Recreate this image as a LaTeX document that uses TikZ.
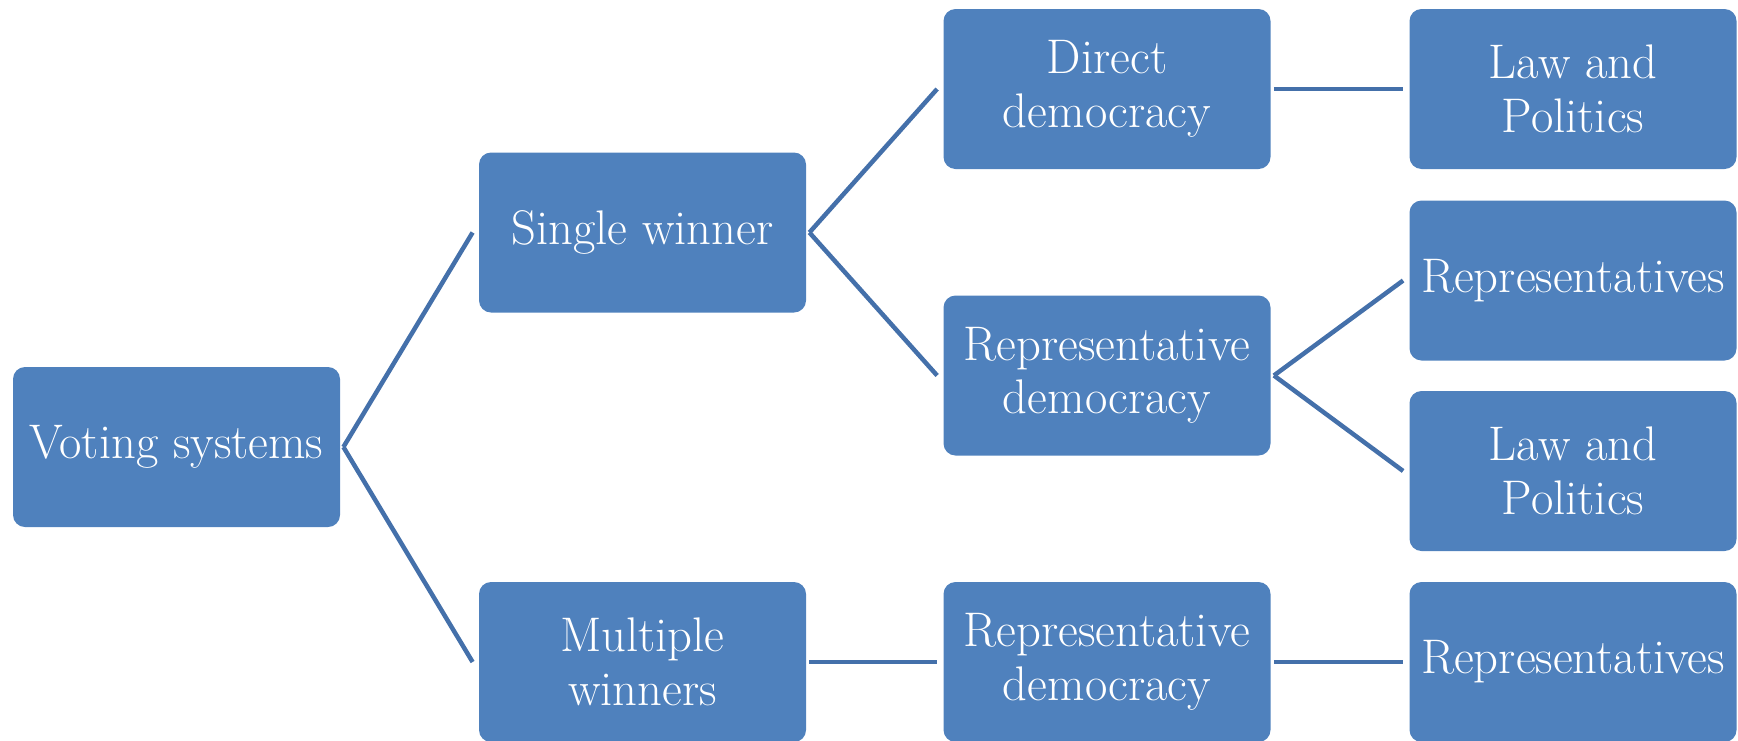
\documentclass[tikz,border=0pt]{standalone}
\usetikzlibrary{calc}
\definecolor{boxblue}{HTML}{4F81BD}
\definecolor{linkblue}{HTML}{4470AA}
\begin{document}
\begin{tikzpicture}[x=0.5pt,y=-0.5pt,
  box/.style={draw=none,fill=boxblue,rounded corners=6pt,minimum width=163.5pt,
    minimum height=80pt,inner sep=0pt,text=white,align=center,
    font=\fontsize{24.3}{26.8}\selectfont},
  link/.style={draw=linkblue,line width=2.25pt,line cap=butt}]
\useasboundingbox (0,0) rectangle (1738,740);
\node[box] (vote) at (176.5,447) {Voting systems};
\node[box] (single) at (642.5,232.5) {Single winner};
\node[box] (multi) at (642.5,662) {Multiple\\winners};
\node[box] (direct) at (1107,89) {Direct\\democracy};
\node[box] (repmid) at (1107,375.5) {Representative\\democracy};
\node[box] (repbot) at (1107,662) {Representative\\democracy};
\node[box] (law1) at (1573,89) {Law and\\Politics};
\node[box] (reps1) at (1573,280.5) {Representatives};
\node[box] (law2) at (1573,471) {Law and\\Politics};
\node[box] (reps2) at (1573,662) {Representatives};
\draw[link] ($(vote.east)+(3,0)$) -- ($(single.west)+(-6,0)$);
\draw[link] ($(vote.east)+(3,0)$) -- ($(multi.west)+(-6,0)$);
\draw[link] ($(single.east)+(3,0)$) -- ($(direct.west)+(-6,0)$);
\draw[link] ($(single.east)+(3,0)$) -- ($(repmid.west)+(-6,0)$);
\draw[link] ($(direct.east)+(3,0)$) -- ($(law1.west)+(-6,0)$);
\draw[link] ($(repmid.east)+(3,0)$) -- ($(reps1.west)+(-6,0)$);
\draw[link] ($(repmid.east)+(3,0)$) -- ($(law2.west)+(-6,0)$);
\draw[link] ($(multi.east)+(3,0)$) -- ($(repbot.west)+(-6,0)$);
\draw[link] ($(repbot.east)+(3,0)$) -- ($(reps2.west)+(-6,0)$);
\end{tikzpicture}
\end{document}
